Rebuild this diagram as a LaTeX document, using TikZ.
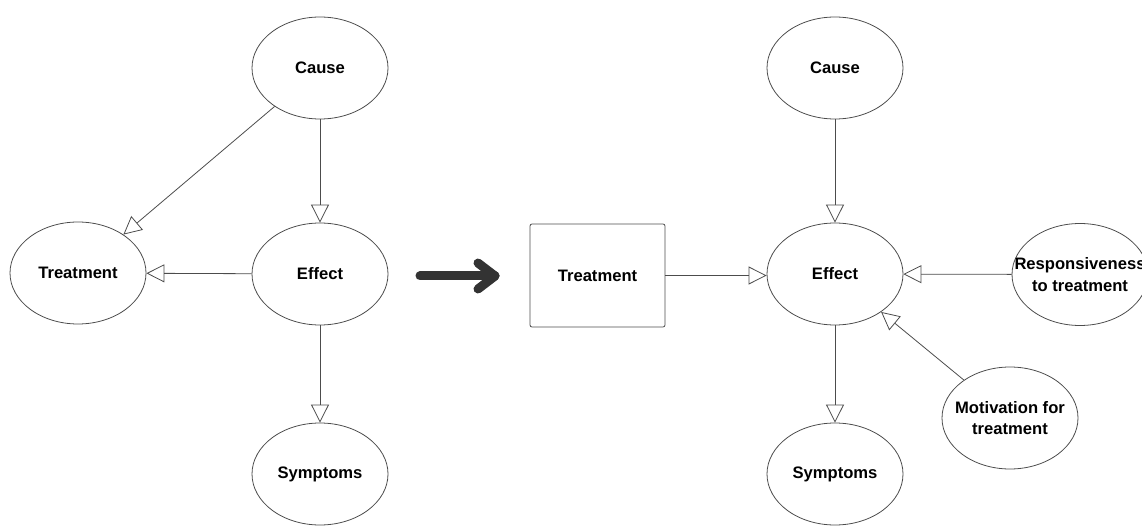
\documentclass[tikz,border=0pt]{standalone}
\usepackage{fontspec}
\setmainfont{Liberation Sans}
\usetikzlibrary{shapes.geometric,arrows.meta}
\begin{document}
\begin{tikzpicture}[x=1pt,y=-1pt,
  every node/.style={font=\fontsize{16.6}{21.5}\selectfont\bfseries},
  ell/.style={draw=black!70,line width=0.8pt,ellipse,minimum width=136pt,minimum height=102pt,inner sep=0pt},
  ellt/.style={ell,label={[align=center,inner sep=0pt]center:#1}},
  box/.style={draw=black!70,line width=0.8pt,rectangle,rounded corners=2pt,minimum width=135pt,minimum height=103pt,inner sep=0pt},
  conn/.style={draw=black!70,line width=0.8pt,-{Triangle[open,length=18pt,width=18pt]}},
  big/.style={draw=black!80,line width=9pt,line cap=round,line join=round}]
\useasboundingbox (0,0) rectangle (1142,526);
% left diagram
\node[ell] (c1) at (320,68) {Cause};
\node[ell] (t1) at (78,273) {Treatment};
\node[ell] (e1) at (320,274) {Effect};
\node[ell] (s1) at (320,474) {Symptoms};
\draw[conn] (c1) -- (t1);
\draw[conn] (c1) -- (e1);
\draw[conn] (e1) -- (t1);
\draw[conn] (e1) -- (s1);
% big arrow
\coordinate (a0) at (420,276);
\coordinate (a1) at (495,276);
\coordinate (a2) at (478,263);
\coordinate (a3) at (478,289);
\draw[big] (a0) -- (a1);
\draw[big] (a2) -- (a1) -- (a3);
% right diagram
\node[box] (r2) at (597.5,275.5) {Treatment};
\node[ell] (c2) at (835,68) {Cause};
\node[ell] (e2) at (835,274) {Effect};
\node[ell] (s2) at (835,474) {Symptoms};
\node[ellt={Responsiveness\\to treatment}] (p2) at (1080,274.5) {};
\node[ellt={Motivation for\\treatment}] (m2) at (1010,418) {};
\draw[conn] (c2) -- (e2);
\draw[conn] (e2) -- (s2);
\draw[conn] (r2.east) -- (r2.east -| e2.west);
\draw[conn] (p2) -- (e2);
\draw[conn] (m2) -- (e2);
\end{tikzpicture}
\end{document}
